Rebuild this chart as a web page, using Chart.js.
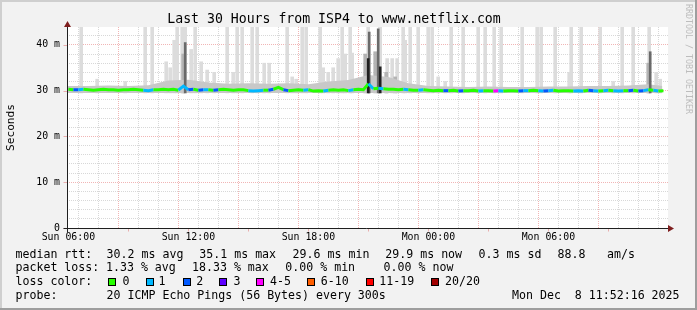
<!DOCTYPE html>
<html>
<head>
<meta charset="utf-8">
<script src="https://cdn.jsdelivr.net/npm/chart.js@4.4.1/dist/chart.umd.min.js"></script>
<style>
  html, body { margin: 0; padding: 0; background: #f2f2f2; }
  #wrap { position: relative; width: 697px; height: 310px; overflow: hidden; font-family: "DejaVu Sans Mono", monospace; }
  #chart { position: absolute; left: 0; top: 0; }
  .t { position: absolute; font-size: 11.6px; line-height: 13.6px; white-space: pre; color: #000; }
  .box { position: absolute; top: 278px; width: 8px; height: 8px; box-sizing: border-box; border: 1px solid #000; }
  #credit { position: absolute; left: 684px; top: 4px; width: 9px; writing-mode: vertical-rl; font-size: 8.3px; line-height: 9px; color: #bdbdbd; white-space: pre; }
  .edge { position: absolute; }
</style>
</head>
<body>
<div id="wrap">
  <canvas id="chart" width="697" height="310"></canvas>
  <div id="credit">RRDTOOL / TOBI OETIKER</div>
  <div id="stats"></div>
  <div class="edge" style="left:0;top:0;width:697px;height:2px;background:#cfcfcf"></div>
  <div class="edge" style="left:0;top:0;width:2px;height:310px;background:#cfcfcf"></div>
  <div class="edge" style="right:0;top:0;width:2px;height:310px;background:#9e9e9e"></div>
  <div class="edge" style="left:0;bottom:0;width:697px;height:2px;background:#9e9e9e"></div>
</div>
<script>
// hours since Sun 00:00
const labelHours = [6, 12, 18, 24, 30];
const labelText = ["Sun 06:00", "Sun 12:00", "Sun 18:00", "Mon 00:00", "Mon 06:00"];
const yLabelValues = [0, 10, 20, 30, 40];
const yLabelText = ["0", "10 m", "20 m", "30 m", "40 m"];

// median rtt (ms), one value every 15 min from Sun 06:00
const medianRtt = [
  30.3, 30.2, 30.2, 30.3, 30.2, 30.1, 30.2, 30.3, 30.2, 30.2,
  30.1, 30.2, 30.2, 30.3, 30.2, 30.1, 30.0, 30.2, 30.2, 30.3,
  30.2, 30.3, 30.1, 31.0, 30.2, 30.3, 30.1, 30.2, 30.2, 30.1,
  30.2, 30.3, 30.2, 30.1, 30.2, 30.2, 30.0, 29.9, 30.0, 30.1,
  30.1, 30.3, 30.7, 30.2, 30.0, 30.1, 30.2, 30.1, 30.2, 29.9,
  30.0, 29.9, 30.1, 30.2, 30.1, 30.2, 30.0, 30.2, 30.3, 30.2,
  31.5, 30.4, 30.5, 30.4, 30.3, 30.3, 30.2, 30.3, 30.2, 30.1,
  30.1, 30.2, 30.1, 30.0, 30.1, 30.0, 30.0, 30.1, 29.9, 30.0,
  30.0, 30.1, 29.9, 30.0, 30.0, 29.9, 30.0, 29.9, 30.0, 30.0,
  29.9, 30.0, 30.0, 30.1, 30.0, 29.9, 30.0, 30.1, 29.9, 30.0,
  30.0, 29.9, 30.0, 29.9, 30.1, 30.0, 29.9, 30.0, 30.1, 30.0,
  29.9, 30.0, 30.0, 30.1, 29.9, 30.0, 30.2, 30.1, 29.9, 30.0,
];
// lost pings out of 20 for the same samples
const lostPings = [
  0, 2, 1, 0, 0, 0, 0, 0, 0, 0,
  0, 0, 0, 0, 0, 1, 1, 0, 0, 0,
  0, 0, 1, 1, 2, 0, 2, 1, 0, 2,
  0, 0, 0, 0, 0, 0, 1, 1, 1, 0,
  2, 0, 0, 2, 0, 0, 0, 1, 0, 0,
  0, 1, 0, 0, 0, 0, 1, 0, 0, 0,
  1, 0, 1, 0, 0, 0, 0, 1, 0, 0,
  1, 0, 0, 0, 0, 2, 0, 0, 2, 0,
  0, 0, 1, 0, 0, 4, 1, 0, 0, 0,
  2, 1, 0, 0, 1, 2, 1, 0, 0, 0,
  0, 1, 1, 0, 2, 1, 0, 1, 0, 1,
  1, 0, 2, 0, 2, 1, 0, 1, 0, 0,
];

// smoke band around the median
const smokeFloor = 29.5;
const bandHours = [5.93, 7, 8, 9, 10, 11, 12, 13, 14, 15, 16, 17, 18, 19, 20, 21,
  22, 23, 24, 25, 26, 27, 28, 29, 30, 31, 32, 33, 34, 35, 35.7];
const bandTop = [31.0, 31.0, 31.1, 31.0, 31.2, 32.2, 32.4, 31.8, 31.5, 31.6, 31.5,
  31.6, 31.4, 32.0, 32.3, 33.4, 33.0, 31.6, 31.0, 30.9, 30.8, 30.9, 30.8, 30.8,
  30.9, 30.9, 31.0, 31.0, 31.1, 31.4, 31.0];

// slow single pings (light smoke), tops above 44 are cut by the plot
const spikeHours = [
  6.64, 7.44, 8.84, 9.84, 10.19, 10.89, 11.09, 11.29, 11.44, 11.69, 11.84, 12.14,
  12.34, 12.64, 12.94, 13.29, 13.94, 14.24, 14.44, 14.69, 15.19, 15.44, 15.79,
  16.04, 16.94, 17.19, 17.39, 17.69, 17.89, 18.59, 18.74, 18.99, 19.24, 19.49,
  19.69, 19.84, 20.09, 20.19, 20.99, 21.59, 21.94, 22.19, 22.44, 22.74, 22.84,
  23.09, 23.49, 23.99, 24.19, 24.49, 24.84, 25.14, 25.74, 26.49, 26.84, 27.29,
  27.64, 28.69, 29.44, 29.64, 30.34, 31.04, 31.14, 31.64, 32.59, 33.24, 33.69,
  34.24, 35.04, 35.39, 35.59,
];
const spikeTop = [
  50, 32.5, 32.0, 50, 50, 36.3, 35.0, 41.0, 50, 50, 50, 39.0,
  50, 36.3, 34.5, 34.0, 50, 34.0, 50, 50, 50, 50, 36.0,
  36.0, 50, 33.0, 32.5, 50, 50, 50, 35.0, 34.0, 35.0, 37.0,
  50, 38.0, 50, 38.2, 50, 50, 37.0, 37.0, 37.0, 50, 41.0,
  50, 50, 50, 50, 33.0, 32.0, 50, 50, 50, 50, 50,
  50, 50, 50, 50, 50, 34.0, 50, 50, 50, 32.0, 50,
  50, 50, 34.0, 32.5,
];
// denser smoke
const midHours = [11.74, 20.84, 21.34, 21.89, 22.34, 34.99];
const midTop = [38.0, 38.0, 38.5, 34.0, 33.0, 36.0];
const darkHours = [11.84, 21.04, 21.49, 35.09];
const darkTop = [40.5, 42.8, 43.5, 38.5];
const blackHours = [20.99, 21.59];
const blackTop = [37.0, 35.2];

const lossSteps = [0, 1, 2, 3, 5, 10, 19, 20];
const lossColors = ["#26ff00", "#00b8ff", "#0059ff", "#5e00ff", "#ff00ff", "#ff5e00", "#ff0000", "#a10000"];
const lossLabels = ["0", "1", "2", "3", "4-5", "6-10", "11-19", "20/20"];
const lossColor = (n) => lossColors[lossSteps.findIndex((s) => n <= s)];

const medianHours = medianRtt.map((v, i) => 6 + i * 0.25);
const bars = (hours, tops) => hours.map((h, i) => ({ x: h, y: [smokeFloor, tops[i]] }));

const minorGrid = "rgba(143,143,143,0.35)";
const majorGrid = "rgba(222,79,79,0.42)";
const mono = "DejaVu Sans Mono";
Chart.defaults.font.family = mono;

// white canvas, axes and arrows like rrdtool
const rrdFrame = {
  id: "rrdFrame",
  beforeDraw(chart) {
    const { ctx, chartArea: a } = chart;
    ctx.save();
    ctx.fillStyle = "#fff";
    ctx.fillRect(a.left, a.top, a.right - a.left, a.bottom - a.top);
    ctx.restore();
  },
  afterDraw(chart) {
    const { ctx, chartArea: a, scales } = chart;
    const bx = a.left + 0.5;
    const by = a.bottom + 0.5;
    ctx.save();
    ctx.lineWidth = 1;
    ctx.strokeStyle = majorGrid;
    ctx.beginPath();
    yLabelValues.forEach((v) => {
      const py = Math.round(scales.y.getPixelForValue(v)) + 0.5;
      ctx.moveTo(bx - 4, py);
      ctx.lineTo(bx, py);
    });
    for (let h = 9; h < scales.x.max; h += 3) {
      const px = Math.round(scales.x.getPixelForValue(h)) + 0.5;
      ctx.moveTo(px, by);
      ctx.lineTo(px, by + 3);
    }
    ctx.stroke();
    ctx.strokeStyle = "#1f1f1f";
    ctx.beginPath();
    ctx.moveTo(bx - 4, by);
    ctx.lineTo(a.right + 2, by);
    ctx.moveTo(bx, by + 4);
    ctx.lineTo(bx, a.top - 3);
    ctx.stroke();
    ctx.fillStyle = "#7f1f1f";
    ctx.beginPath();
    ctx.moveTo(bx, a.top - 6);
    ctx.lineTo(bx - 3.5, a.top);
    ctx.lineTo(bx + 3.5, a.top);
    ctx.closePath();
    ctx.moveTo(a.right + 6, by);
    ctx.lineTo(a.right, by - 3.5);
    ctx.lineTo(a.right, by + 3.5);
    ctx.closePath();
    ctx.fill();
    ctx.restore();
  },
};

const ctx = document.getElementById("chart").getContext("2d");
new Chart(ctx, {
  type: "bar",
  data: {
    datasets: [
      {
        type: "line",
        data: medianHours.map((h, i) => ({ x: h, y: medianRtt[i] })),
        borderWidth: 3,
        pointRadius: 0,
        tension: 0,
        fill: false,
        borderColor: lossColor(lostPings[0]),
        segment: { borderColor: (c) => lossColor(lostPings[c.p0DataIndex]) },
        order: 1,
      },
      { data: bars(blackHours, blackTop), backgroundColor: "#202020", barThickness: 2, grouped: false, order: 2 },
      { data: bars(darkHours, darkTop), backgroundColor: "#6a6a6a", barThickness: 2, grouped: false, order: 3 },
      {
        type: "line",
        data: bandHours.map((h, i) => ({ x: h, y: bandTop[i] })),
        borderWidth: 0,
        pointRadius: 0,
        tension: 0,
        fill: { value: smokeFloor },
        backgroundColor: "#c8c8c8",
        order: 4,
      },
      { data: bars(midHours, midTop), backgroundColor: "#b4b4b4", barThickness: 3, grouped: false, order: 5 },
      { data: bars(spikeHours, spikeTop), backgroundColor: "#dcdcdc", barThickness: 3, grouped: false, order: 6 },
    ],
  },
  options: {
    responsive: false,
    animation: false,
    layout: { padding: { left: 0, right: 29, top: 0, bottom: 0 } },
    plugins: {
      legend: { display: false },
      tooltip: { enabled: false },
      title: {
        display: true,
        text: "Last 30 Hours from ISP4 to www.netflix.com",
        color: "#000",
        font: { family: mono, size: 13.2, weight: "normal", lineHeight: 1 },
        padding: { top: 13.3, bottom: 0.5 },
      },
    },
    scales: {
      x: {
        type: "linear",
        min: 5.93,
        max: 35.98,
        offset: false,
        afterFit: (s) => { s.height = 82; },
        border: { display: false, dash: [1, 1] },
        grid: {
          drawTicks: false,
          color: (c) => (c.tick && c.tick.value % 3 === 0 ? majorGrid : minorGrid),
        },
        ticks: {
          stepSize: 1,
          includeBounds: false,
          autoSkip: false,
          maxRotation: 0,
          minRotation: 0,
          padding: 3,
          color: "#000",
          font: { size: 9.9 },
          callback: (v) => {
            const k = labelHours.indexOf(v);
            return k < 0 ? "" : labelText[k];
          },
        },
      },
      y: {
        min: 0,
        max: 43.9,
        afterFit: (s) => { s.width = 67; },
        border: { display: false, dash: [1, 1] },
        grid: {
          drawTicks: false,
          color: (c) => (c.tick && c.tick.value % 10 === 0 ? majorGrid : minorGrid),
        },
        ticks: {
          stepSize: 2,
          includeBounds: false,
          autoSkip: false,
          padding: 7,
          color: "#000",
          font: { size: 9.9 },
          callback: (v) => {
            const k = yLabelValues.indexOf(v);
            return k < 0 ? "" : yLabelText[k];
          },
        },
        title: {
          display: true,
          text: "Seconds",
          color: "#000",
          font: { size: 11.2 },
          padding: { top: 4, bottom: 0 },
        },
      },
    },
  },
  plugins: [rrdFrame],
});

// stats block under the graph
const statLines = [
  [[15.5, "median rtt:"], [106.6, "30.2 ms avg"], [199.3, "35.1 ms max"], [292.6, "29.6 ms min"],
    [385.3, "29.9 ms now"], [478.6, "0.3 ms sd"], [557.6, "88.8"], [607, "am/s"]],
  [[15.5, "packet loss:"], [106, "1.33 % avg"], [192, "18.33 % max"], [285.3, "0.00 % min"], [383.6, "0.00 % now"]],
  [[15.5, "loss color:"]],
  [[15.5, "probe:"], [106.6, "20 ICMP Echo Pings (56 Bytes) every 300s"], [512, "Mon Dec  8 11:52:16 2025"]],
];
const lineTops = [247.7, 261.3, 274.9, 288.5];
const boxLeft = [108.3, 145.7, 182.7, 219.3, 256, 306.7, 365.7, 430.7];
const boxLabelLeft = [122.5, 158.6, 196.2, 233.5, 270, 320.8, 379.3, 445];

const stats = document.getElementById("stats");
const addText = (x, y, s) => {
  const el = document.createElement("div");
  el.className = "t";
  el.style.left = x + "px";
  el.style.top = y + "px";
  el.textContent = s;
  stats.appendChild(el);
};
statLines.forEach((line, r) => line.forEach(([x, s]) => addText(x, lineTops[r], s)));
lossLabels.forEach((lab, i) => {
  const b = document.createElement("div");
  b.className = "box";
  b.style.left = boxLeft[i] + "px";
  b.style.background = lossColors[i];
  stats.appendChild(b);
  addText(boxLabelLeft[i], lineTops[2], lab);
});
</script>
</body>
</html>
